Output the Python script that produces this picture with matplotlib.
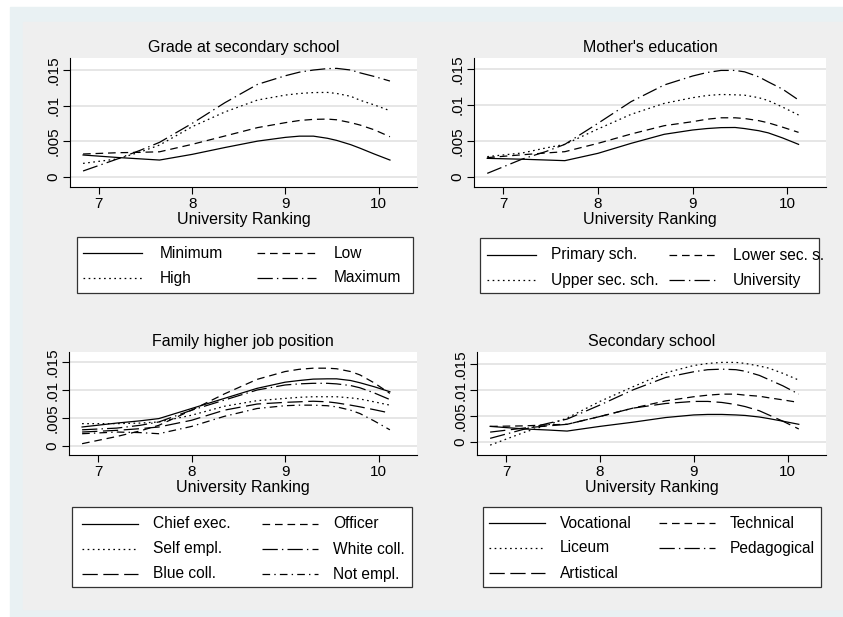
import matplotlib
matplotlib.use('Agg')
import matplotlib.pyplot as plt
from matplotlib.patches import Rectangle
from matplotlib.lines import Line2D

plt.rcParams['font.family'] = ['Liberation Sans', 'DejaVu Sans']
plt.rcParams['lines.scale_dashes'] = False

W, H = 843, 617

# x positions where the curves were read
ranking = [6.83, 7.2, 7.45, 7.65, 8.0, 8.35, 8.7, 9.0, 9.15, 9.3, 9.45, 9.55, 9.7, 9.8, 9.95, 10.12]

# Grade at secondary school
grade_labels = ['Minimum', 'Low', 'High', 'Maximum']
grade_minimum = [.00305, .0027, .0025, .00234, .00314, .0041, .0050, .00553,
                 .0057, .0057, .0054, .0051, .0045, .0040, .0032, .00234]
grade_low = [.00319, .00337, .00343, .0035, .00455, .00572, .0069, .0076,
             .0079, .00806, .0081, .0080, .0076, .00726, .0066, .00562]
grade_high = [.00187, .0025, .0035, .00445, .00703, .0091, .01078, .01148,
              .0117, .01183, .01185, .0117, .0113, .01075, .0101, .00928]
grade_maximum = [.0008, .0025, .00375, .00483, .0075, .0104, .01298, .0142,
                 .0147, .0150, .0152, .01523, .0150, .0146, .0141, .01345]

# Mother's education
mother_labels = ['Primary sch.', 'Lower sec. s.', 'Upper sec. sch.', 'University']
mother_primary = [.00255, .00243, .00232, .00223, .00325, .00464, .0059, .0065,
                  .0067, .00683, .00685, .0067, .0064, .0061, .0054, .0045]
mother_lower = [.00265, .00305, .0033, .00348, .00464, .00594, .0071, .00766,
                .0080, .0082, .0082, .0081, .0078, .0075, .0069, .00617]
mother_upper = [.00279, .0033, .0040, .0045, .00664, .00868, .01021, .011,
                .0113, .01145, .0114, .01135, .0110, .0106, .0097, .00859]
mother_univ = [.00046, .00245, .0035, .0045, .00743, .01045, .01277, .01402,
               .0145, .0148, .0148, .0146, .0139, .0132, .0122, .01068]

# Family higher job position
job_labels = ['Chief exec.', 'Officer', 'Self empl.', 'White coll.', 'Blue coll.', 'Not empl.']
job_chief = [.0034, .0041, .0045, .0049, .0067, .0085, .0103, .0114,
             .0117, .01195, .0120, .0120, .0117, .0113, .0106, .0097]
job_officer = [.00042, .0017, .0027, .0037, .0064, .0093, .0119, .0133,
               .0137, .0139, .0139, .0138, .0133, .0127, .0113, .0094]
job_self = [.0040, .0040, .0041, .0043, .0055, .0071, .0081, .0085,
            .0087, .0088, .0088, .0088, .0086, .0084, .0079, .0073]
job_white = [.0029, .0032, .0037, .0043, .0064, .0082, .0100, .0109,
             .0111, .0112, .0112, .0111, .0108, .0104, .0095, .0083]
job_blue = [.0025, .0028, .0031, .0034, .0046, .0064, .0075, .0078,
            .0079, .0080, .0079, .0077, .0073, .0070, .0065, .0059]
job_none = [.0022, .0025, .0024, .0022, .0035, .0053, .0067, .0072,
            .0073, .0073, .0072, .0070, .0064, .0058, .0045, .0029]

# Secondary school
school_labels = ['Vocational', 'Technical', 'Liceum', 'Pedagogical', 'Artistical']
school_voc = [.0030, .0025, .0023, .0021, .0030, .0038, .0047, .0052,
              .0053, .0053, .0052, .0051, .0048, .0045, .0040, .0034]
school_tech = [.0030, .0031, .0033, .0034, .0049, .0065, .0079, .0087,
               .0090, .0092, .0092, .0090, .0088, .0085, .0081, .0076]
school_lic = [-.0006, .0019, .0033, .0046, .0078, .0106, .0133, .0147,
              .0151, .0153, .0153, .0151, .0146, .0142, .0132, .0119]
school_ped = [.0007, .0025, .0036, .0044, .0071, .0100, .0124, .0135,
              .0139, .0140, .0139, .0136, .0128, .0120, .0108, .0092]
school_art = [.0019, .0027, .0031, .0034, .0049, .0065, .0074, .0078,
              .0078, .0076, .0072, .0068, .0060, .0052, .0040, .0025]

ytick_vals = [0, .005, .01, .015]
ytick_text = ['0', '.005', '.01', '.015']
xtick_vals = [7, 8, 9, 10]

styles = ['-', (0, (5.5, 3.5)), (0, (1.2, 2.5)), (0, (11, 3, 1, 3)),
          (0, (11, 4)), (0, (5.5, 3, 1, 3))]

# title, labels, series, axes box, legend box, ylim, legend rows y, legend column x, handle len, text offset
panels = [
    ("Grade at secondary school", grade_labels,
     [grade_minimum, grade_low, grade_high, grade_maximum],
     (70, 58, 417, 187), (77, 237, 413, 293), (-.00145, .01669),
     [253, 278], [83, 257], 59, 77),
    ("Mother's education", mother_labels,
     [mother_primary, mother_lower, mother_upper, mother_univ],
     (474, 58, 826, 187), (480, 238, 819, 293), (-.00144, .01653),
     [255, 280], [487, 669], 49, 64),
    ("Family higher job position", job_labels,
     [job_chief, job_officer, job_self, job_white, job_blue, job_none],
     (69, 352, 417, 455), (72, 507, 412, 587), (-.0016, .01679),
     [524, 549, 574], [82, 262], 56, 71),
    ("Secondary school", school_labels,
     [school_voc, school_tech, school_lic, school_ped, school_art],
     (477, 352, 826, 455), (483, 507, 821, 587), (-.0025, .0173),
     [523, 548, 573], [489, 659], 56, 71),
]


def fbox(l, t, r, b):
    return [l / W, 1 - b / H, (r - l) / W, (b - t) / H]


fig = plt.figure(figsize=(W / 100, H / 100), dpi=100, facecolor='white')
fig.patches.append(Rectangle((10 / W, 0), 1, 1 - 7 / H, transform=fig.transFigure,
                             color='#e9f1f3', zorder=-3))
fig.patches.append(Rectangle((23 / W, 1 - 609 / H), 1, (609 - 22) / H,
                             transform=fig.transFigure, color='#efefef', zorder=-2))

for title, labels, series, abox, lbox, ylim, rows_y, cols_x, hlen, toff in panels:
    ax = fig.add_axes(fbox(*abox))
    ax.set_facecolor('white')
    for i, vals in enumerate(series):
        ax.plot(ranking, vals, color='black', lw=0.9, linestyle=styles[i])
    ax.set_xlim(6.69, 10.41)
    ax.set_ylim(*ylim)
    ax.set_xticks(xtick_vals)
    ax.set_yticks(ytick_vals)
    ax.set_yticklabels(ytick_text, rotation=90, va='center')
    ax.yaxis.grid(True, color='#e2e2e2', lw=1.2)
    ax.set_axisbelow(True)
    for s in ['top', 'right']:
        ax.spines[s].set_visible(False)
    for s in ['left', 'bottom']:
        ax.spines[s].set_linewidth(0.8)
    ax.tick_params(direction='out', length=5, width=0.8, labelsize=11, pad=2)
    ax.set_title(title, fontsize=11.5, pad=4)
    ax.set_xlabel('University Ranking', fontsize=11.5, labelpad=1)

    # legend box, Stata style: two columns filled row by row
    l, t, r, b = lbox
    fig.patches.append(Rectangle((l / W, 1 - b / H), (r - l) / W, (b - t) / H,
                                 transform=fig.transFigure, facecolor='white',
                                 edgecolor='#333333', lw=0.9, zorder=1))
    for k, lab in enumerate(labels):
        x0 = cols_x[k % 2]
        y0 = 1 - rows_y[k // 2] / H
        fig.add_artist(Line2D([x0 / W, (x0 + hlen) / W], [y0, y0],
                              transform=fig.transFigure, color='black', lw=0.9,
                              linestyle=styles[k], zorder=2))
        fig.text((x0 + toff) / W, y0, lab, fontsize=11.2, va='center', ha='left', zorder=2)

fig.savefig('out.png', dpi=100, facecolor=fig.get_facecolor())
